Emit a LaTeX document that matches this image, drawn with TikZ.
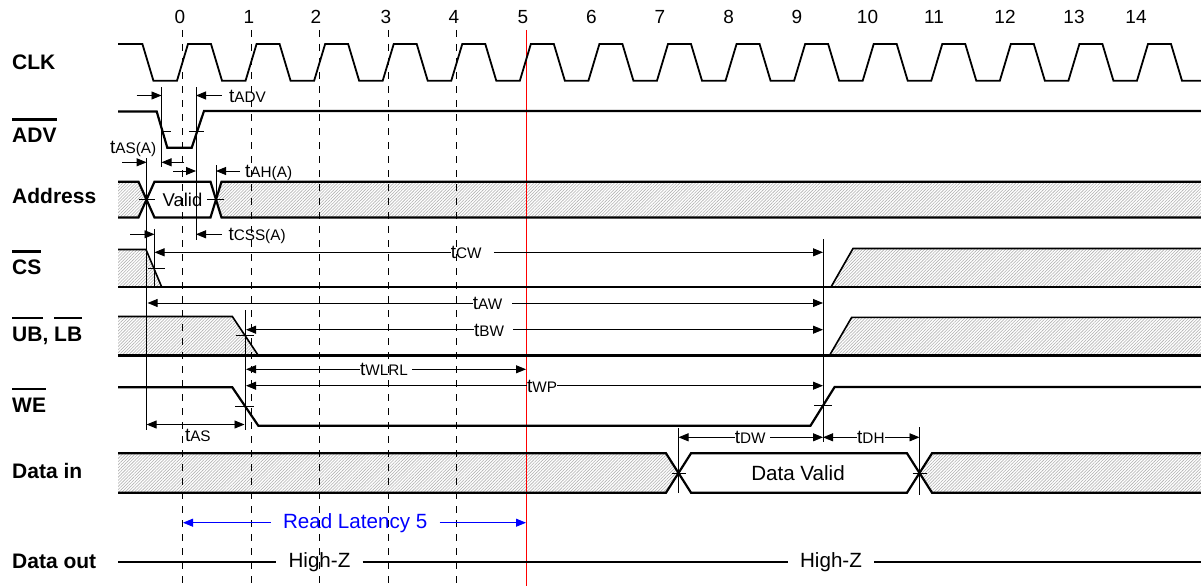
\documentclass[tikz,border=0pt]{standalone}
\usepackage{fontspec}
\setmainfont{Liberation Sans}
\usetikzlibrary{arrows.meta,patterns.meta}
\newcommand\ovl[1]{\setbox0\hbox{#1}\rlap{\rule[21.8pt]{\wd0}{2.8pt}}\box0}
\newcommand\tsub[1]{t{\fontsize{15.3}{18}\selectfont #1}}
\tikzset{
  sig/.style={line width=2.2pt, line join=miter},
  clkline/.style={line width=1.8pt, line join=miter},
  edge/.style={line width=1.6pt},
  thinline/.style={line width=0.9pt},
  dim/.style={line width=0.9pt, -{Triangle[length=10pt,width=8pt]}},
  ddim/.style={line width=0.9pt, {Triangle[length=10pt,width=8pt]}-{Triangle[length=10pt,width=8pt]}},
  hatch/.style={pattern={Lines[angle=45,distance=2.2pt,line width=0.6pt]}, pattern color=gray!60},
  siglab/.style={font=\bfseries\fontsize{21}{25}\selectfont, inner sep=0pt, anchor=base west},
  tlab/.style={font=\fontsize{19}{22}\selectfont, inner sep=0pt, anchor=base west},
  num/.style={font=\fontsize{19}{22}\selectfont, inner sep=0pt, anchor=base},
  txt/.style={font=\fontsize{20.6}{24}\selectfont, inner sep=0pt},
  gridline/.style={line width=1.1pt, dash pattern=on 7pt off 7pt},
}
\newcommand\dimlab[4]{%
  \node[tlab] (#1) at (#2,{#3+6.5}) {#4};
  \coordinate (#1L) at ([yshift=6.5pt]#1.base west);
  \coordinate (#1R) at ([yshift=6.5pt]#1.base east);
}
\begin{document}
\begin{tikzpicture}[x=1pt,y=-1pt]
\useasboundingbox (0,0) rectangle (1201,586);
\fill[white] (0,0) rectangle (1201,586);

% reference coordinates
\coordinate (vadvf) at (161.5,0);
\coordinate (vadvr) at (196,0);
\coordinate (vaddr) at (146.6,0);
\coordinate (vcs) at (154.5,0);
\coordinate (vah) at (216,0);
\coordinate (vub) at (245,0);
\coordinate (vwe) at (823,0);
\coordinate (vd1) at (678.5,0);
\coordinate (vd2) at (919.5,0);
\coordinate (vred) at (526,0);
\coordinate (vt0) at (183,0);

% hatched areas
\fill[hatch] (118,181.7) -- (138.5,181.7) -- (146.5,199.6) -- (138.5,217.5) -- (118,217.5) -- cycle;
\fill[hatch] (216,199.6) -- (221.5,181.7) -- (1201,181.7) -- (1201,217.5) -- (221.5,217.5) -- cycle;
\fill[hatch] (118,249.5) -- (146,249.5) -- (161.7,287) -- (118,287) -- cycle;
\fill[hatch] (831,287) -- (853,248.5) -- (1201,248.5) -- (1201,287) -- cycle;
\fill[hatch] (118,316.5) -- (232.3,316.5) -- (258.3,355.5) -- (118,355.5) -- cycle;
\fill[hatch] (829.5,355.5) -- (851.7,317.3) -- (1201,317.3) -- (1201,355.5) -- cycle;
\fill[hatch] (118,453.3) -- (666,453.3) -- (678.5,473) -- (666,492.7) -- (118,492.7) -- cycle;
\fill[hatch] (919.5,473) -- (932,453.3) -- (1201,453.3) -- (1201,492.7) -- (932,492.7) -- cycle;

% clock grid
\foreach \k in {0,...,4} \draw[gridline] ({182.5+68.57*\k},30) -- ({182.5+68.57*\k},584);
\draw[red, line width=1pt] (526,30) -- (526,586);

% cycle numbers
\foreach \n/\x in {0/180,1/249,2/316,3/386,4/454,5/523,6/591.5,7/660,8/728.7,9/797,10/867.5,11/934,12/1005,13/1074,14/1136}
  \node[num] (n\n) at (\x,24) {\n};

% signal names
\node[siglab] (lclk) at (12,69.2) {CLK};
\node[siglab] (ladv) at (12,142.7) {\ovl{ADV}};
\node[siglab] (laddr) at (12,203.2) {Address};
\node[siglab] (lcs) at (12,274.7) {\ovl{CS}};
\node[siglab] (lub) at (12,341.2) {\ovl{UB}, \ovl{LB}};
\node[siglab] (lwe) at (12,412.2) {\ovl{WE}};
\node[siglab] (ldin) at (12,478.2) {Data in};
\node[siglab] (ldout) at (12,568.7) {Data out};

% CLK
\draw[clkline] (118,44) -- (142.4,44) -- (153.4,80.7)
  foreach \k in {0,...,14} { -- ({182.5+68.57*\k-5.5},80.7) -- ({182.5+68.57*\k+5.5},44) -- ({182.5+68.57*\k+28.5},44) -- ({182.5+68.57*\k+39.5},80.7) } -- (1201,80.7);

% ADV
\draw[sig] (118,111.5) -- (156.7,111.5) -- (167.3,147.7) -- (191.7,147.7) -- (204,111) -- (1201,111);
\draw[thinline] (161.5,131) -- (171,131);
\draw[thinline] (189,131) -- (204,131);

% Address
\draw[sig] (118,181.7) -- (138.5,181.7) -- (154.5,217.5) -- (210.5,217.5) -- (221.5,181.7) -- (1201,181.7);
\draw[sig] (118,217.5) -- (138.5,217.5) -- (154.5,181.7) -- (210.5,181.7) -- (221.5,217.5) -- (1201,217.5);
\draw[thinline] (138.5,199.6) -- (154.5,199.6);
\draw[thinline] (207,199.6) -- (224,199.6);
\node[txt, font=\fontsize{18.5}{22}\selectfont] (valid) at (182.5,199.6) {Valid};

% CS
\draw[edge] (118,249.5) -- (146,249.5) -- (161.7,287);
\draw[edge] (831,287) -- (853,248.5) -- (1201,248.5);
\draw[sig] (118,287) -- (1201,287);
\draw[thinline] (148.3,268.3) -- (165,268.3);

% UB, LB
\draw[edge] (118,316.5) -- (232.3,316.5) -- (258.3,355.5);
\draw[edge] (829.5,355.5) -- (851.7,317.3) -- (1201,317.3);
\draw[sig] (118,355.5) -- (1201,355.5);
\draw[thinline] (235.7,335) -- (254.3,335);

% WE
\draw[sig] (118,387.3) -- (232.3,387.3) -- (258.3,425.7) -- (810.5,425.7) -- (834.6,387) -- (1201,387);
\draw[thinline] (235,406.7) -- (254,406.7);
\draw[thinline] (814,405) -- (831.5,405);

% Data in
\draw[sig] (118,453.3) -- (666,453.3) -- (691,492.7) -- (907,492.7) -- (932,453.3) -- (1201,453.3);
\draw[sig] (118,492.7) -- (666,492.7) -- (691,453.3) -- (907,453.3) -- (932,492.7) -- (1201,492.7);
\draw[thinline] (671.5,473) -- (685.5,473);
\draw[thinline] (912.5,473) -- (927,473);
\node[txt] (dvalid) at (798,473) {Data Valid};

% Data out
\node[txt, inner xsep=12pt] (hz1) at (319.5,561.7) {High-Z};
\node[txt, inner xsep=12pt] (hz2) at (831,561.7) {High-Z};
\coordinate (dostart) at (118,561.7);
\coordinate (doend) at (1201,561.7);
\draw[sig] (dostart) -- (hz1.west);
\draw[sig] (hz1.east) -- (hz2.west);
\draw[sig] (hz2.east) -- (doend);

% Read latency
\node[txt, text=blue, inner xsep=12pt] (rl) at (355.2,522.7) {Read Latency 5};
\draw[dim, blue] (rl.west) -- (rl.west -| vt0);
\draw[dim, blue] (rl.east) -- (rl.east -| vred);

% reference verticals
\draw[thinline] (161.5,87) -- (161.5,167);
\draw[thinline] (196,87) -- (196,240);
\draw[thinline] (146.6,158) -- (146.6,430);
\draw[thinline] (154.5,229) -- (154.5,287);
\draw[thinline] (216,165) -- (216,200);
\draw[thinline] (245,310) -- (245,430);
\draw[thinline] (823,239) -- (823,442);
\draw[thinline] (678.5,428) -- (678.5,493);
\draw[thinline] (919.5,427) -- (919.5,495);

% tADV
\dimlab{tadv}{229}{95.5}{\tsub{ADV}}
\draw[dim] (136.7,95.5) -- (vadvf |- tadvL);
\draw[dim] ([xshift=-7.3pt]tadvL) -- (tadvL -| vadvr);

% tAS(A)
\node[tlab] (tasa) at (110,153.5) {\tsub{AS(A)}};
\draw[dim] (122.3,162.3) -- (146.6,162.3);
\draw[dim] (184,162.3) -- (161.5,162.3);

% tAH(A)
\dimlab{taha}{245}{171}{\tsub{AH(A)}}
\draw[dim] (173.3,171) -- (vadvr |- tahaL);
\draw[dim] ([xshift=-5pt]tahaL) -- (tahaL -| vah);

% tCSS(A)
\dimlab{tcss}{228.3}{234.3}{\tsub{CSS(A)}}
\draw[dim] (130,234.3) -- (vcs |- tcssL);
\draw[dim] ([xshift=-6.6pt]tcssL) -- (tcssL -| vadvr);

% tCW
\dimlab{tcw}{450.7}{252.3}{\tsub{CW}}
\draw[dim] (tcwL) -- (tcwL -| vcs);
\draw[dim] ([xshift=12pt]tcwR) -- (tcwR -| vwe);

% tAW
\dimlab{taw}{472.7}{303}{\tsub{AW}}
\draw[dim] (tawL) -- ([xshift=1pt]tawL -| vaddr);
\draw[dim] ([xshift=10pt]tawR) -- (tawR -| vwe);

% tBW
\dimlab{tbw}{474}{329.7}{\tsub{BW}}
\draw[dim] (tbwL) -- ([xshift=1pt]tbwL -| vub);
\draw[dim] ([xshift=9pt]tbwR) -- (tbwR -| vwe);

% tWLRL
\dimlab{twlrl}{360}{369.3}{\tsub{WLRL}}
\draw[dim] (twlrlL) -- ([xshift=1pt]twlrlL -| vub);
\draw[dim] ([xshift=4pt]twlrlR) -- (twlrlR -| vred);

% tWP
\dimlab{twp}{527}{385.7}{\tsub{WP}}
\draw[dim] (twpL) -- ([xshift=1pt]twpL -| vub);
\draw[dim] (twpR) -- (twpR -| vwe);

% tAS
\node[tlab] (tas) at (184.8,441) {\tsub{AS}};
\draw[ddim] (146.6,424.5) -- (244.5,424.5);

% tDW
\dimlab{tdw}{734.7}{437.3}{\tsub{DW}}
\draw[dim] (tdwL) -- (tdwL -| vd1);
\draw[dim] ([xshift=4pt]tdwR) -- (tdwR -| vwe);

% tDH
\dimlab{tdh}{857}{437.3}{\tsub{DH}}
\draw[dim] (tdhL) -- (tdhL -| vwe);
\draw[dim] (tdhR) -- (tdhR -| vd2);
\end{tikzpicture}
\end{document}
